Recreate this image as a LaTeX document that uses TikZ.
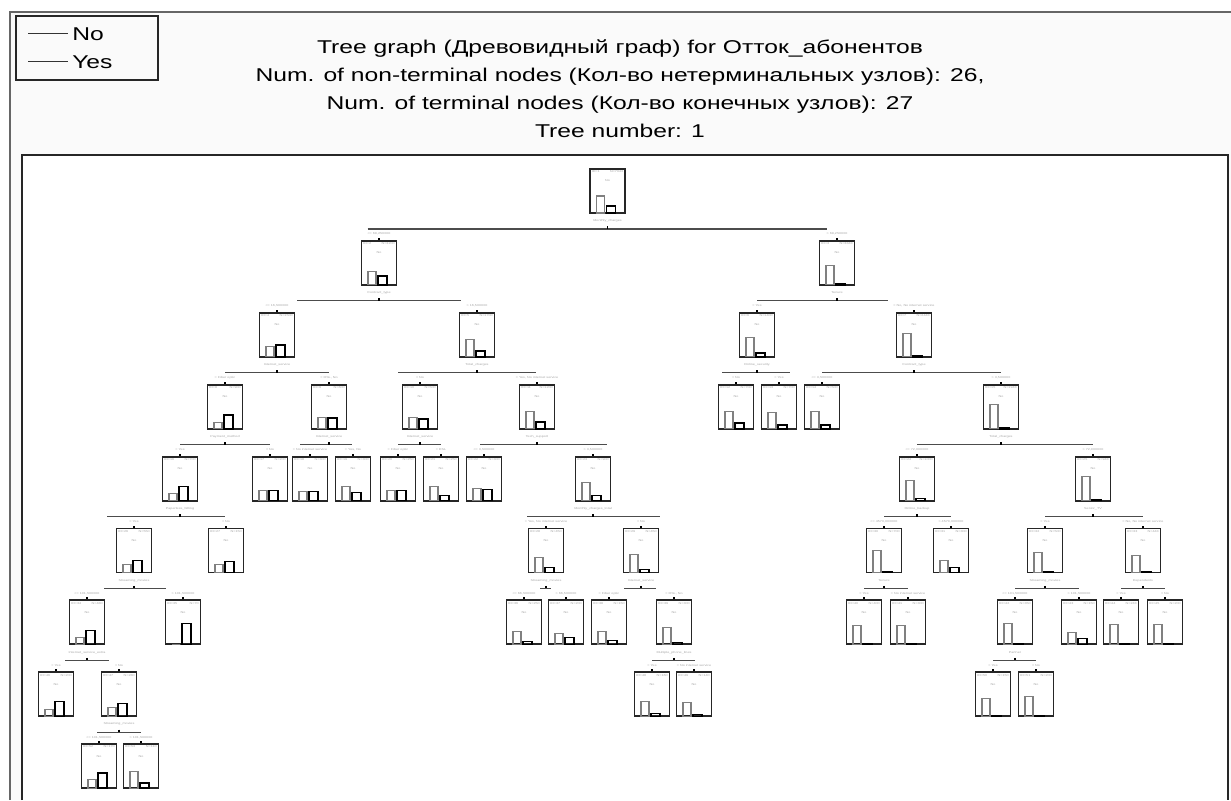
\documentclass[tikz,border=0pt]{standalone}
\usepackage{fontspec}
\setmainfont{Liberation Sans}
\newfontfamily\widefont[FakeStretch=1.33]{Liberation Sans}
\usetikzlibrary{calc}

\tikzset{
  headtext/.style={inner sep=0pt, anchor=base, font=\widefont\fontsize{13.9}{16}\selectfont},
  tinytext/.style={inner sep=0pt, text=black!35, font=\widefont\fontsize{2.1}{2.5}\selectfont},
  tbox/.style={draw=black!85, line width=1.4pt, minimum width=26.25pt, minimum height=33pt, inner sep=0pt},
  nobar/.style={draw=black!50, line width=0.8pt},
  yesbar/.style={draw=black, line width=1.2pt},
  splitline/.style={draw=black!70, line width=0.9pt},
  tickmark/.style={draw=black, line width=1pt},
}

% one tree node: name, centre x, level, height of the No bar, height of the Yes bar, id, count
\newcommand\treenode[7]{%
  \pgfmathsetmacro\tyt{169+71.9*#3}%
  \node[tbox] (#1) at (#2,\tyt+22) {};
  \draw[nobar] (#2-11,\tyt+44) rectangle (#2-3,\tyt+44-#4);
  \draw[yesbar] (#2-1,\tyt+44) rectangle (#2+8,\tyt+44-#5);
  \node[tinytext] at (#2,\tyt+12) {No};
  \node[tinytext,anchor=north west] at (#2-16,\tyt+1.5) {ID=#6};
  \node[tinytext,anchor=north east] at (#2+16,\tyt+1.5) {N=#7};
}
% split under a node: parent, left offset, right offset, variable
\newcommand\splitat[4]{%
  \node[tinytext] at ($(#1.south)+(0,7)$) {#4};
  \draw[splitline] ($(#1.south)+(#2,15)$) -- ($(#1.south)+(#3,15)$);
  \draw[tickmark] ($(#1.south)+(0,12.5)$) -- ($(#1.south)+(0,15)$);
}
% condition over a child node
\newcommand\condat[2]{%
  \node[tinytext] at ($(#1.north)+(0,-6)$) {#2};
  \draw[tickmark] (#1.north) -- ($(#1.north)+(0,-2)$);
}

\begin{document}
\begin{tikzpicture}[x=0.75pt,y=-0.75pt]
\useasboundingbox (0,0) rectangle (1231,800);
\fill[white] (0,0) rectangle (1231,800);
\fill[black!2] (10,12) rectangle (1231,800);
\draw[black!60, line width=1.6pt] (10,800) -- (10,12) -- (1231,12);

% legend
\draw[black!85, line width=0.8pt] (16,16) rectangle (158,80);
\coordinate (lgA) at (28,33); \coordinate (lgB) at (68,33);
\coordinate (lgC) at (28,61); \coordinate (lgD) at (68,61);
\draw[black!80, line width=0.6pt] (lgA) -- (lgB);
\draw[black!80, line width=0.6pt] (lgC) -- (lgD);
\node[headtext, anchor=base west] (lgno) at (72,40) {No};
\node[headtext, anchor=base west] (lgyes) at (72,68) {Yes};

% heading
\node[headtext] (t1) at (620,53) {Tree graph (Древовидный граф) for Отток\_абонентов};
\node[headtext] (t2) at (620,81) {Num. of non-terminal nodes (Кол-во нетерминальных узлов): 26,};
\node[headtext] (t3) at (620,109) {Num. of terminal nodes (Кол-во конечных узлов): 27};
\node[headtext] (t4) at (620,137) {Tree number: 1};

% plot area
\fill[white] (22,155) rectangle (1228,800);
\draw[black!85, line width=1.1pt] (22,800) -- (22,155) -- (1228,155) -- (1228,800);

% level 0
\treenode{r}{607.5}{0}{17}{7}{1}{7043}
% level 1
\treenode{a}{379}{1}{13}{9}{2}{3200}
\treenode{b}{837}{1}{19}{1.5}{3}{3843}
% level 2
\treenode{aa}{277}{2}{10}{12}{4}{1500}
\treenode{ab}{477}{2}{17}{6}{5}{1700}
\treenode{ba}{757}{2}{19}{4}{6}{1400}
\treenode{bb}{914}{2}{23}{1}{7}{2443}
% level 3
\treenode{aaa}{225}{3}{6}{14}{8}{900}
\treenode{aab}{329}{3}{11}{11}{9}{600}
\treenode{aba}{420}{3}{11}{10}{10}{500}
\treenode{abb}{537}{3}{17}{7}{11}{1200}
\treenode{baa}{736}{3}{17}{6}{12}{700}
\treenode{bab}{779}{3}{16}{4}{13}{700}
\treenode{bba}{822}{3}{17}{4}{14}{500}
\treenode{bbb}{1001}{3}{24}{1}{15}{1943}
% level 4
\treenode{aaaa}{180}{4}{7}{14}{16}{700}
\treenode{aaab}{270}{4}{10}{10}{17}{200}
\treenode{aaba}{310}{4}{9}{9}{18}{300}
\treenode{aabb}{353}{4}{14}{8}{19}{300}
\treenode{abaa}{398}{4}{10}{10}{20}{250}
\treenode{abab}{441}{4}{14}{5}{21}{250}
\treenode{abba}{484}{4}{12}{11}{22}{300}
\treenode{abbb}{593}{4}{18}{5}{23}{900}
\treenode{bbba}{917}{4}{20}{2}{24}{1000}
\treenode{bbbb}{1093}{4}{24}{1}{25}{943}
% level 5
\treenode{aaaaa}{134}{5}{8}{12}{26}{550}
\treenode{aaaab}{226}{5}{8}{11}{27}{150}
\treenode{abbba}{546}{5}{15}{5}{28}{450}
\treenode{abbbb}{641}{5}{18}{3}{29}{450}
\treenode{bbbaa}{884}{5}{22}{1}{30}{700}
\treenode{bbbab}{951}{5}{12}{5}{31}{300}
\treenode{bbbba}{1045}{5}{20}{0.5}{32}{500}
\treenode{bbbbb}{1143}{5}{17}{1}{33}{443}
% level 6
\treenode{fa}{87}{6}{7}{14}{34}{480}
\treenode{fb}{183}{6}{0}{21}{35}{70}
\treenode{fc}{524}{6}{13}{3}{36}{250}
\treenode{fd}{566}{6}{11}{7}{37}{200}
\treenode{fe}{609}{6}{13}{4}{38}{150}
\treenode{ff}{674}{6}{17}{2}{39}{300}
\treenode{fg}{864}{6}{19}{1}{40}{400}
\treenode{fh}{908}{6}{19}{1}{41}{300}
\treenode{fi}{1015}{6}{21}{0.5}{42}{350}
\treenode{fj}{1079}{6}{12}{6}{43}{150}
\treenode{fk}{1121}{6}{20}{1}{44}{243}
\treenode{fl}{1165}{6}{20}{1}{45}{200}
% level 7
\treenode{ga}{56}{7}{7}{15}{46}{200}
\treenode{gb}{119}{7}{9}{13}{47}{280}
\treenode{gc}{652}{7}{15}{3}{48}{160}
\treenode{gd}{694}{7}{14}{2}{49}{140}
\treenode{ge}{993}{7}{18}{1}{50}{150}
\treenode{gf}{1036}{7}{20}{1}{51}{200}
% level 8
\treenode{ha}{99}{8}{9}{15}{52}{170}
\treenode{hb}{141}{8}{17}{5}{53}{110}

% splits
\splitat{r}{-240}{219}{Monthly\_charges}
\condat{a}{<= 69,250000}\condat{b}{> 69,250000}
\splitat{a}{-82}{82}{Contract\_type}
\condat{aa}{<= 16,500000}\condat{ab}{> 16,500000}
\splitat{b}{-80}{51}{Tenure}
\condat{ba}{= Yes}\condat{bb}{= No, No internet service}
\splitat{aa}{-52}{52}{Internet\_service}
\condat{aaa}{= Fiber optic}\condat{aab}{= DSL, No}
\splitat{ab}{-79}{59}{Total\_charges}
\condat{aba}{= No}\condat{abb}{= Yes, No internet service}
\splitat{ba}{-35}{33}{Online\_security}
\condat{baa}{= No}\condat{bab}{= Yes}
\splitat{bb}{-92}{87}{Contract\_type}
\condat{bba}{<= 3,500000}\condat{bbb}{> 3,500000}
\splitat{aaa}{-45}{45}{Payment\_method}
\condat{aaaa}{= Yes}\condat{aaab}{= No}
\splitat{aab}{-29}{23}{Internet\_service}
\condat{aaba}{= No internet service}\condat{aabb}{= Yes, No}
\splitat{aba}{-22}{21}{Internet\_service}
\condat{abaa}{= Fiber optic}\condat{abab}{= DSL}
\splitat{abb}{-57}{70}{Tech\_support}
\condat{abba}{<= 3,500000}\condat{abbb}{> 3,500000}
\splitat{bbb}{-84}{92}{Total\_charges}
\condat{bbba}{<= 72,000000}\condat{bbbb}{> 72,000000}
\splitat{aaaa}{-73}{45}{Paperless\_billing}
\condat{aaaaa}{= Yes}\condat{aaaab}{= No}
\splitat{abbb}{-66}{67}{Monthly\_charges\_total}
\condat{abbba}{= Yes, No internet service}\condat{abbbb}{= No}
\splitat{bbba}{-33}{34}{Online\_backup}
\condat{bbbaa}{<= 4570,000000}\condat{bbbab}{> 4570,000000}
\splitat{bbbb}{-48}{50}{Senior\_TV}
\condat{bbbba}{= Yes}\condat{bbbbb}{= No, No internet service}
\splitat{aaaaa}{-30}{32}{Streaming\_movies}
\condat{fa}{<= 101,500000}\condat{fb}{> 101,500000}
\splitat{abbba}{-6}{5}{Streaming\_movies}
\condat{fc}{<= 66,500000}\condat{fd}{> 66,500000}
\splitat{abbbb}{-17}{15}{Internet\_service}
\condat{fe}{= Fiber optic}\condat{ff}{= DSL, No}
\splitat{bbbaa}{-20}{24}{Tenure}
\condat{fg}{= Yes}\condat{fh}{= No internet service}
\splitat{bbbba}{-30}{34}{Streaming\_movies}
\condat{fi}{<= 101,500000}\condat{fj}{> 101,500000}
\splitat{bbbbb}{-22}{22}{Dependents}
\condat{fk}{= Yes}\condat{fl}{= No}
\splitat{fa}{-22}{22}{Internet\_service\_extra}
\condat{ga}{= Yes}\condat{gb}{= No}
\splitat{ff}{-22}{21}{Multiple\_phone\_lines}
\condat{gc}{= Yes}\condat{gd}{= No internet service}
\splitat{fi}{-22}{21}{Partner}
\condat{ge}{= Yes}\condat{gf}{= No}
\splitat{gb}{-22}{22}{Streaming\_movies}
\condat{ha}{<= 101,500000}\condat{hb}{> 101,500000}
\end{tikzpicture}
\end{document}
